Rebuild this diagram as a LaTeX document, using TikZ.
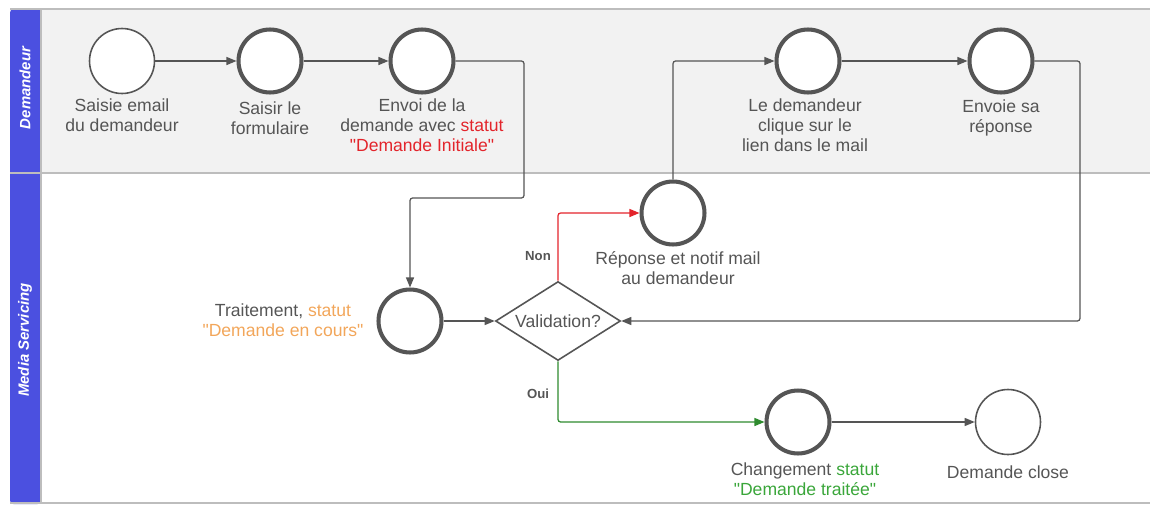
\documentclass[tikz,border=0pt]{standalone}
\usepackage{fontspec}
\setmainfont{Liberation Sans}[Ligatures=TeXOff]
\usetikzlibrary{arrows.meta,shapes.geometric}
\definecolor{txt}{HTML}{555555}
\definecolor{linec}{HTML}{555555}
\definecolor{lanebg}{HTML}{F2F2F2}
\definecolor{laneln}{HTML}{BDBDBD}
\definecolor{hdr}{HTML}{4B50E0}
\definecolor{redc}{HTML}{E3242B}
\definecolor{orac}{HTML}{F2A65A}
\definecolor{grnt}{HTML}{3AA63A}
\definecolor{grnl}{HTML}{2E8B2E}
\tikzset{
  evthick/.style={circle,draw=linec,fill=white,line width=2.3pt,minimum size=1.26cm,inner sep=0pt},
  evthin/.style={circle,draw=linec,fill=white,line width=0.9pt,minimum size=1.3cm,inner sep=0pt},
  lbl/.style={align=center,text=txt,font=\fontsize{10}{11.4}\selectfont,inner sep=0pt},
  conn/.style={draw=linec,line width=0.7pt,rounded corners=1.5pt,-{Triangle[length=0.2cm,width=0.16cm]}},
  yn/.style={text=txt,font=\fontsize{7.5}{9}\selectfont\bfseries,inner sep=0pt},
  hdrtxt/.style={text=white,font=\fontsize{8.5}{10}\selectfont\bfseries\itshape,rotate=90,inner sep=0pt}
}
\begin{document}
\begin{tikzpicture}[x=0.02cm,y=-0.02cm]
\useasboundingbox (0,0) rectangle (1150,504);
% lanes
\fill[lanebg] (41,9) rectangle (1150,173);
\fill[hdr,rounded corners=2pt] (10,9) rectangle (41,504);
\draw[laneln,line width=1pt] (10,9) -- (1150,9);
\draw[laneln,line width=1pt] (10,173) -- (1150,173);
\draw[laneln,line width=1pt] (41,9) -- (41,504);
\draw[laneln,line width=1pt] (10,503) -- (1150,503);
\node[hdrtxt] (h1) at (25,88) {Demandeur};
\node[hdrtxt] (h2) at (25,340) {Media Servicing};
% events
\node[evthin]  (c1) at (122,61) {};
\node[evthick] (c2) at (270,61) {};
\node[evthick] (c3) at (422,61) {};
\node[evthick] (c4) at (808,61) {};
\node[evthick] (c5) at (1001,61) {};
\node[evthick] (c6) at (673,213) {};
\node[evthick] (c7) at (410,321) {};
\node[diamond,draw=linec,fill=white,line width=0.9pt,shape aspect=1.58,minimum width=2.5cm,minimum height=1.58cm,inner sep=0pt,text=txt,font=\fontsize{10}{11.4}\selectfont] (dia) at (558,321) {Validation?};
\node[evthick] (c9) at (798,422) {};
\node[evthin]  (c10) at (1008,422) {};
% labels
\node[lbl] (l1) at (122,115) {Saisie email\\du demandeur};
\node[lbl] (l2) at (270,118) {Saisir le\\formulaire};
\node[lbl] (l3) at (422,125) {Envoi de la\\demande avec \textcolor{redc}{statut}\\\textcolor{redc}{"Demande Initiale"}};
\node[lbl] (l4) at (805,125) {Le demandeur\\clique sur le\\lien dans le mail};
\node[lbl] (l5) at (1001,118) {Envoie sa\\réponse};
\node[lbl] (l6) at (678,268) {Réponse et notif mail\\au demandeur};
\node[lbl] (l7) at (283,320) {Traitement, \textcolor{orac}{statut}\\\textcolor{orac}{"Demande en cours"}};
\node[lbl] (l9) at (805,479) {Changement \textcolor{grnt}{statut}\\\textcolor{grnt}{"Demande traitée"}};
\node[lbl] (l10) at (1008,472) {Demande close};
\node[yn] (non) at (538,256) {Non};
\node[yn] (oui) at (538,394) {Oui};
% bends
\coordinate (b1) at (524,198);
\coordinate (b2) at (1080,321);
% connectors
\draw[conn] (c1.east) -- (c2.west);
\draw[conn] (c2.east) -- (c3.west);
\draw[conn] (c3.east) -| (b1) -| (c7.north);
\draw[conn] (c7.east) -- (dia.west);
\draw[conn,draw=redc,-{Triangle[length=0.2cm,width=0.16cm,fill=redc]}] (dia.north) |- (c6.west);
\draw[conn] (c6.north) |- (c4.west);
\draw[conn] (c4.east) -- (c5.west);
\draw[conn] (c5.east) -| (b2) -- (dia.east);
\draw[conn,draw=grnl,-{Triangle[length=0.2cm,width=0.16cm,fill=grnl]}] (dia.south) |- (c9.west);
\draw[conn] (c9.east) -- (c10.west);
\end{tikzpicture}
\end{document}
